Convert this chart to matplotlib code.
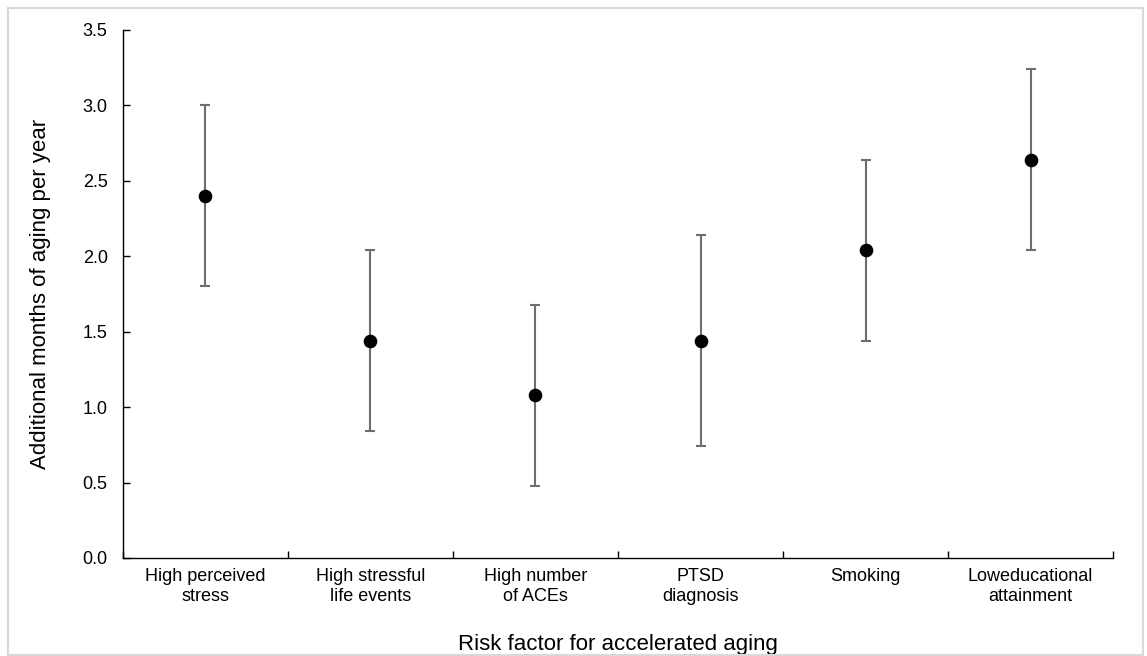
import matplotlib
matplotlib.use('Agg')
import matplotlib.pyplot as plt
from matplotlib.patches import Rectangle

plt.rcParams['font.family'] = ['Liberation Sans', 'DejaVu Sans']

categories = ['High perceived\nstress', 'High stressful\nlife events', 'High number\nof ACEs',
              'PTSD\ndiagnosis', 'Smoking', 'Loweducational\nattainment']
estimate = [2.40, 1.44, 1.08, 1.44, 2.04, 2.64]
lower = [1.80, 0.84, 0.48, 0.74, 1.44, 2.04]
upper = [3.00, 2.04, 1.68, 2.14, 2.64, 3.24]

fig = plt.figure(figsize=(11.47, 6.56), dpi=100)
ax = fig.add_axes([0.1072, 0.1494, 0.8632, 0.8049])

# light frame round the whole figure
fig.patches.append(Rectangle((8 / 1147, 1.5 / 656), 1135 / 1147, 646.5 / 656, transform=fig.transFigure,
                             fill=False, edgecolor='#d9d9d9', linewidth=1.5))

xpos = [i + 0.5 for i in range(len(categories))]
err_lo = [e - l for e, l in zip(estimate, lower)]
err_hi = [u - e for e, u in zip(estimate, upper)]
ax.errorbar(xpos, estimate, yerr=[err_lo, err_hi], fmt='none', ecolor='#6e6e6e',
            elinewidth=1.5, capsize=3.5, capthick=1.5, zorder=2)
ax.plot(xpos, estimate, 'o', color='black', markersize=8.8, zorder=3)

ax.set_xlim(0, len(categories))
ax.set_ylim(0, 3.5)
ax.set_yticks([0, 0.5, 1.0, 1.5, 2.0, 2.5, 3.0, 3.5])
ax.set_yticklabels(['0.0', '0.5', '1.0', '1.5', '2.0', '2.5', '3.0', '3.5'], fontsize=13)

# boundary ticks on the x axis, labels centred in each slot
ax.set_xticks(range(len(categories) + 1))
ax.set_xticklabels([])
ax.set_xticks(xpos, minor=True)
ax.set_xticklabels(categories, minor=True, fontsize=13)
ax.tick_params(axis='x', which='minor', length=0, pad=7.5)
ax.tick_params(axis='x', which='major', direction='in', length=5, width=1)
ax.tick_params(axis='y', direction='in', length=5, width=1, pad=11)

for s in ['top', 'right']:
    ax.spines[s].set_visible(False)
for s in ['left', 'bottom']:
    ax.spines[s].set_linewidth(1)

ax.set_xlabel('Risk factor for accelerated aging', fontsize=16, labelpad=21)
ax.set_ylabel('Additional months of aging per year', fontsize=16, labelpad=23)

fig.savefig('out.png', dpi=100)
